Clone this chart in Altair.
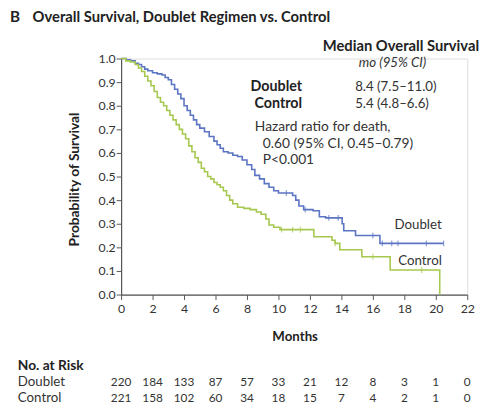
import altair as alt
import pandas as pd

FONT = "Lato"

# Kaplan-Meier step points (month, survival)
doublet_t = [0, 0.3, 0.6, 0.9, 1.1, 1.3, 1.5, 1.7, 2.0, 2.3, 2.6, 2.8, 3.0, 3.2, 3.4, 3.6, 3.8,
             4.0, 4.2, 4.4, 4.6, 4.8, 5.0, 5.3, 5.6, 5.9, 6.1, 6.3, 6.5, 6.8, 7.1, 7.4, 7.7,
             8.0, 8.3, 8.5, 8.8, 9.1, 9.4, 9.7, 10.0, 10.9, 11.1, 11.3, 11.6, 12.2, 12.6,
             13.0, 14.05, 14.15, 14.9, 16.45, 20.5]
doublet_s = [1.0, 0.995, 0.99, 0.98, 0.975, 0.965, 0.955, 0.948, 0.94, 0.935, 0.93, 0.92, 0.91,
             0.89, 0.87, 0.85, 0.83, 0.80, 0.78, 0.76, 0.74, 0.72, 0.705, 0.69, 0.67, 0.65,
             0.635, 0.62, 0.605, 0.60, 0.59, 0.585, 0.57, 0.55, 0.53, 0.505, 0.49, 0.47,
             0.455, 0.44, 0.43, 0.42, 0.40, 0.375, 0.36, 0.355, 0.33, 0.325, 0.30, 0.27,
             0.25, 0.217, 0.217]

control_t = [0, 0.3, 0.6, 0.9, 1.1, 1.3, 1.5, 1.7, 1.9, 2.1, 2.3, 2.5, 2.7, 2.9, 3.1, 3.3,
             3.5, 3.7, 3.9, 4.1, 4.3, 4.5, 4.7, 4.9, 5.1, 5.3, 5.5, 5.7, 5.9, 6.1, 6.3, 6.5,
             6.7, 6.9, 7.1, 7.4, 7.8, 8.2, 8.6, 8.9, 9.2, 9.4, 9.7, 10.1, 12.25, 13.4, 13.6,
             13.9, 15.3, 17.1, 20.25]
control_s = [1.0, 0.99, 0.985, 0.975, 0.96, 0.945, 0.925, 0.905, 0.885, 0.86, 0.835, 0.815,
             0.80, 0.78, 0.76, 0.74, 0.72, 0.70, 0.68, 0.66, 0.63, 0.605, 0.58, 0.56, 0.535,
             0.52, 0.50, 0.49, 0.475, 0.465, 0.455, 0.44, 0.42, 0.40, 0.385, 0.37, 0.365,
             0.36, 0.35, 0.34, 0.32, 0.295, 0.285, 0.275, 0.245, 0.23, 0.217, 0.19, 0.16,
             0.104, 0.0]

# censor marks
doublet_cens_t = [10.5, 11.7, 13.2, 13.8, 16.0, 16.6, 17.2, 17.6, 19.4, 20.5]
doublet_cens_s = [0.43, 0.36, 0.325, 0.325, 0.25, 0.217, 0.217, 0.217, 0.217, 0.217]
control_cens_t = [10.2, 10.9, 11.4, 13.6, 16.0, 19.1]
control_cens_s = [0.275, 0.275, 0.275, 0.217, 0.16, 0.104]

# risk table
risk_months = [0, 2, 4, 6, 8, 10, 12, 14, 16, 18, 20, 22]
risk_doublet = [220, 184, 133, 87, 57, 33, 21, 12, 8, 3, 1, 0]
risk_control = [221, 158, 102, 60, 34, 18, 15, 7, 4, 2, 1, 0]

x_ticks = [0, 2, 4, 6, 8, 10, 12, 14, 16, 18, 20, 22]
y_ticks = [0.0, 0.1, 0.2, 0.3, 0.4, 0.5, 0.6, 0.7, 0.8, 0.9, 1.0]

BLUE = "#5b74c4"
GREEN = "#a6c84e"
AX = "#555555"
TXT = "#333333"
DARK = "#222222"

curves = pd.DataFrame(
    [{"t": t, "s": s, "g": "Doublet"} for t, s in zip(doublet_t, doublet_s)]
    + [{"t": t, "s": s, "g": "Control"} for t, s in zip(control_t, control_s)]
)
cens = pd.DataFrame(
    [{"t": t, "s": s, "g": "Doublet"} for t, s in zip(doublet_cens_t, doublet_cens_s)]
    + [{"t": t, "s": s, "g": "Control"} for t, s in zip(control_cens_t, control_cens_s)]
)
risk = pd.DataFrame(
    [{"t": t, "n": n, "row": 329} for t, n in zip(risk_months, risk_doublet)]
    + [{"t": t, "n": n, "row": 345} for t, n in zip(risk_months, risk_control)]
)

xscale = alt.Scale(domain=[0, 22], nice=False)
yscale = alt.Scale(domain=[0, 1], nice=False)
color = alt.Color("g:N", scale=alt.Scale(domain=["Doublet", "Control"], range=[BLUE, GREEN]), legend=None)

xaxis = alt.Axis(values=x_ticks, title=None, grid=False, domainColor=AX,
                 tickColor=AX, tickSize=5, labelFont=FONT, labelFontSize=12.5, labelColor=TXT,
                 labelPadding=3, domainWidth=1.2, labelOverlap=False, labelFlush=False)
yaxis = alt.Axis(values=y_ticks, format=".1f", title=None, grid=False,
                 domainColor=AX, tickColor=AX, tickSize=5, labelFont=FONT, labelFontSize=12.5,
                 labelColor=TXT, labelPadding=1, domainWidth=1.2, labelOverlap=False,
                 labelFlush=False)

X = alt.X("t:Q", scale=xscale, axis=xaxis)
Y = alt.Y("s:Q", scale=yscale, axis=yaxis)

lines = alt.Chart(curves).mark_line(interpolate="step-after", strokeWidth=1.6).encode(
    x=X, y=Y, color=color, detail="g:N",
)

ticks = alt.Chart(cens).mark_tick(orient="vertical", size=6, thickness=1.2).encode(
    x=X, y=Y, color=color,
)

risk_text = alt.Chart(risk).mark_text(font=FONT, fontSize=12, color=TXT, align="center",
                                      baseline="middle").encode(
    x=X,
    y=alt.Y("row:Q", scale=None),
    text="n:Q",
)


def label(txt, x, y, size=12, weight="normal", align="left", style="normal", angle=0, color=TXT):
    kw = dict(font=FONT, fontSize=size, fontWeight=weight, align=align, baseline="middle",
              fontStyle=style, color=color)
    if angle:
        kw["angle"] = angle
    return alt.Chart(pd.DataFrame({"v": [txt]})).mark_text(**kw).encode(
        x=alt.value(x), y=alt.value(y), text="v:N")


texts = [
    label("B", -113, -42, size=15.5, weight="bold", color=DARK),
    label("Overall Survival, Doublet Regimen vs. Control", -90, -42, size=15, weight="bold", color=DARK),
    label("Median Overall Survival", 364, -13, size=15, weight="bold", align="right", color=DARK),
    label("mo (95% CI)", 276, 5, size=13.5, style="italic", align="center"),
    label("Doublet", 184, 29, size=14.5, weight="bold", align="right", color=DARK),
    label("Control", 184, 46, size=14.5, weight="bold", align="right", color=DARK),
    label("8.4 (7.5–11.0)", 238, 29, size=13.5),
    label("5.4 (4.8–6.6)", 238, 46, size=13.5),
    label("Hazard ratio for death,", 136, 70, size=14),
    label("0.60 (95% CI, 0.45–0.79)", 144, 87, size=14),
    label("P<0.001", 144, 103, size=14),
    label("Doublet", 302, 169, size=13.5, align="center"),
    label("Control", 304, 206, size=13.5, align="center"),
    label("Probability of Survival", -47, 123, size=14, weight="bold", align="center", angle=270, color=DARK),
    label("Months", 177, 283, size=13.5, weight="bold", align="center", color=DARK),
    label("No. at Risk", -105, 313, size=14, weight="bold", color=DARK),
    label("Doublet", -105, 329, size=13.5),
    label("Control", -105, 345, size=13.5),
]

chart = alt.layer(lines, ticks, risk_text, *texts).properties(
    width=352, height=240,
    autosize=alt.AutoSizeParams(type="none"),
    padding={"left": 115, "top": 48, "right": 16, "bottom": 114},
).configure_view(stroke=None).configure(background="white")

chart.save("out.html", embed_options={"renderer": "svg", "actions": False})
